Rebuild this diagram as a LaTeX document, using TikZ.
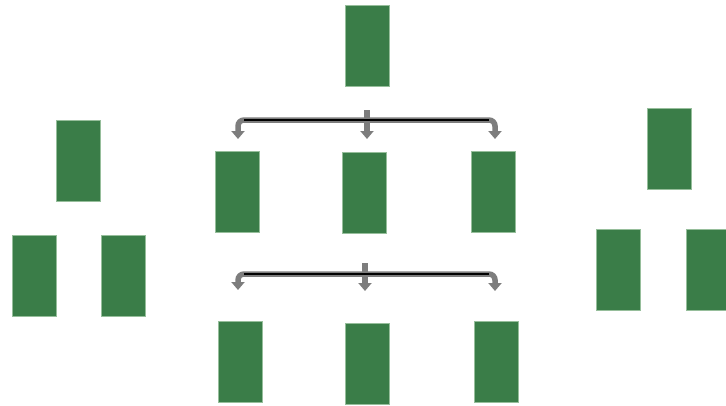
\documentclass[tikz,border=0pt]{standalone}
\usetikzlibrary{arrows.meta}
\definecolor{boxgreen}{RGB}{58,125,72}
\definecolor{boxedge}{RGB}{150,190,155}
\definecolor{linkgray}{RGB}{125,125,125}
\begin{document}
\begin{tikzpicture}[x=1pt,y=-1pt,
  card/.style={rectangle,fill=boxgreen,draw=boxedge,line width=0.8pt,
    minimum width=44pt,minimum height=81pt,inner sep=0pt,outer sep=0pt},
  fork/.style={draw=linkgray,line width=5.5pt,rounded corners=6pt,
    {Triangle[width=13pt,length=8pt]}-{Triangle[width=13pt,length=8pt]}},
  drop/.style={draw=linkgray,line width=5.5pt,-{Triangle[width=13pt,length=8pt]}},
  bar/.style={draw=black,line width=2pt}]
\useasboundingbox (0,0) rectangle (726,405);

% left tree
\node[card] (l0) at (78,161) {};
\node[card] (l1) at (34,275.5) {};
\node[card] (l2) at (123,275.5) {};

% right tree
\node[card] (r0) at (669,148.5) {};
\node[card] (r1) at (618,269.5) {};
\node[card] (r2) at (708,269.5) {};

% central tree
\node[card] (c0) at (367,45.5) {};
\node[card] (c1) at (237,191.5) {};
\node[card] (c2) at (364,192.5) {};
\node[card] (c3) at (493,191.5) {};
\node[card] (c4) at (240,361.5) {};
\node[card] (c5) at (367,363.5) {};
\node[card] (c6) at (496,361.5) {};

% upper fork
\coordinate (u0) at (367,110);
\coordinate (ua) at (238,139);
\coordinate (ub) at (367,139);
\coordinate (uc) at (495,139);
\path[fork] (ua) |- (uc |- 0,120) -- (uc);
\path[drop] (u0) -- (ub);
\draw[bar] (244,120) -- (489,120);

% lower fork
\coordinate (d0) at (365,263);
\coordinate (da) at (238,290);
\coordinate (db) at (365,291);
\coordinate (dc) at (495,291);
\path[fork] (da) |- (dc |- 0,274) -- (dc);
\path[drop] (d0) -- (db);
\draw[bar] (244,274) -- (489,274);
\end{tikzpicture}
\end{document}
